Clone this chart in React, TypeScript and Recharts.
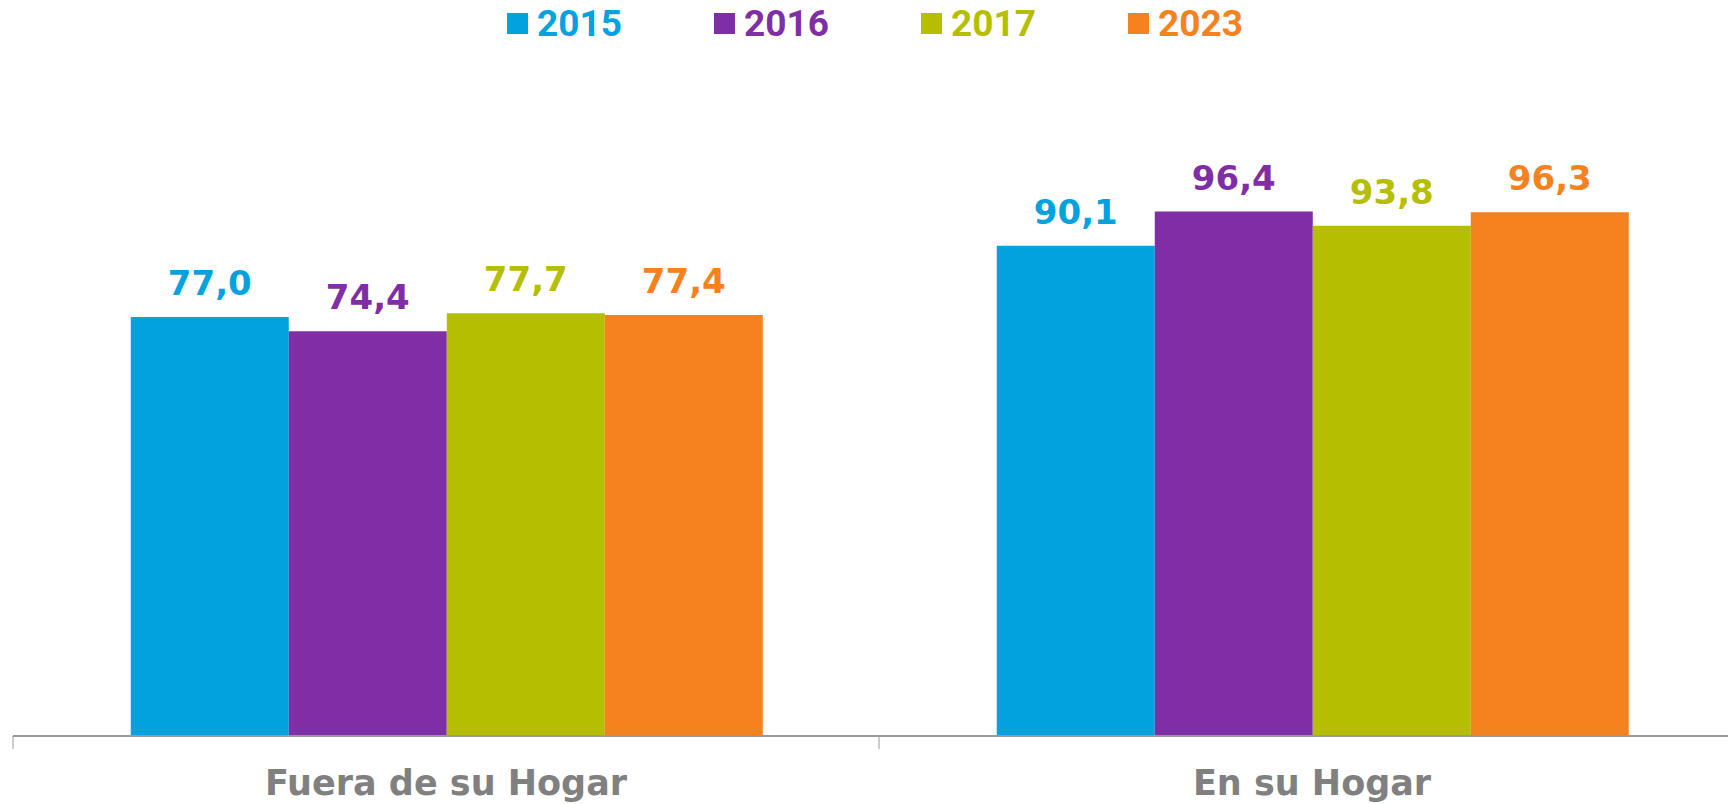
import React from "react";
import { BarChart, Bar, XAxis, YAxis, LabelList } from "recharts";

const categories = ["Fuera de su Hogar", "En su Hogar"];
const years = ["2015", "2016", "2017", "2023"];
const values2015 = [77.0, 90.1];
const values2016 = [74.4, 96.4];
const values2017 = [77.7, 93.8];
const values2023 = [77.4, 96.3];
const colors = ["#02A2DF", "#7F2EA5", "#B5BE00", "#F6811F"];

const seriesValues = [values2015, values2016, values2017, values2023];
const data = categories.map((c, i) => {
  const row: Record<string, string | number> = { name: c };
  years.forEach((y, k) => {
    row[y] = seriesValues[k][i];
  });
  return row;
});

const WIDE = "'DejaVu Sans', Verdana, sans-serif";
const LEGEND_FONT = "Roboto, 'Open Sans', sans-serif";

const fmt = (v: any) => Number(v).toFixed(1).replace(".", ",");

const CustomTick = (props: any) => {
  const { x, y, payload } = props;
  const off = payload && payload.offset ? payload.offset : 0;
  return (
    <g>
      <line x1={x - off} y1={y} x2={x - off} y2={y + 13} stroke="#9a9a9a" strokeWidth={1} />
      <text
        x={x}
        y={y + 59}
        textAnchor="middle"
        fill="#808080"
        fontFamily={WIDE}
        fontWeight={700}
        fontSize={35}
      >
        {payload.value}
      </text>
    </g>
  );
};

export default function App() {
  return (
    <div
      style={{
        position: "fixed",
        left: 0,
        top: 0,
        width: 1728,
        height: 804,
        overflow: "hidden",
        background: "#fff",
      }}
    >
      <div
        style={{
          position: "absolute",
          left: 507,
          top: 2,
          display: "flex",
          alignItems: "center",
          fontFamily: LEGEND_FONT,
          fontWeight: 700,
          fontSize: 37,
          lineHeight: "normal",
          zIndex: 2,
        }}
      >
        {years.map((y, k) => (
          <div key={y} style={{ width: 207, display: "flex", alignItems: "center" }}>
            <div style={{ width: 21, height: 21, background: colors[k], marginRight: 9 }} />
            <span style={{ color: colors[k] }}>{y}</span>
          </div>
        ))}
      </div>
      <BarChart
        width={1760}
        height={804}
        data={data}
        margin={{ top: 192, right: 15, left: 13, bottom: 0 }}
        barCategoryGap="13.6%"
        barGap={0}
      >
        <XAxis
          dataKey="name"
          height={68}
          axisLine={{ stroke: "#9a9a9a", strokeWidth: 2 }}
          tickLine={false}
          tickSize={0}
          tickMargin={0}
          tick={<CustomTick />}
          interval={0}
        />
        <YAxis hide domain={[0, 100]} />
        {years.map((y, k) => (
          <Bar key={y} dataKey={y} fill={colors[k]} isAnimationActive={false}>
            <LabelList
              dataKey={y}
              position="top"
              offset={22}
              formatter={fmt}
              fill={colors[k]}
              fontFamily={WIDE}
              fontWeight={700}
              fontSize={34}
            />
          </Bar>
        ))}
      </BarChart>
    </div>
  );
}
